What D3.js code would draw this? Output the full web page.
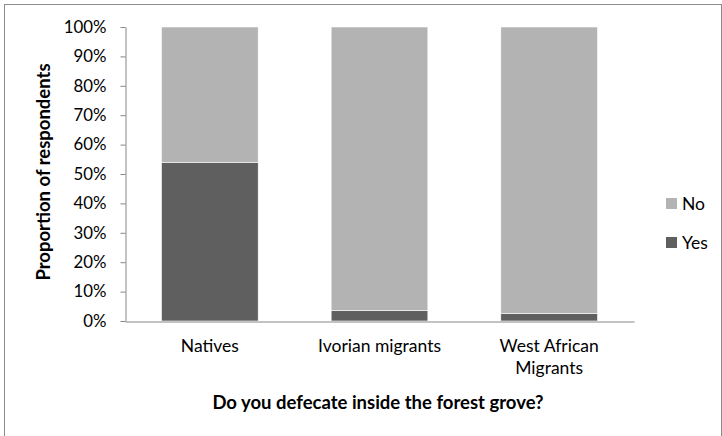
<!DOCTYPE html>
<html>
<head>
<meta charset="utf-8">
<script src="https://cdn.jsdelivr.net/npm/d3@7"></script>
<style>
  body { margin: 0; background: #fff; }
  text { font-family: Lato, "Open Sans", sans-serif; fill: #000; }
</style>
</head>
<body>
<script>
// Chart data
const categories = ["Natives", "Ivorian migrants", "West African Migrants"];
const yesValues = [54, 3.5, 2.5];
const noValues = [46, 96.5, 97.5];
const seriesNames = ["Yes", "No"];
const yTicks = [0, 10, 20, 30, 40, 50, 60, 70, 80, 90, 100];

const colors = {Yes: "#5f5f5f", No: "#b3b3b3"};

const W = 722, H = 436;
const margin = {top: 27, left: 125, right: 88, bottom: 115};
const width = W - margin.left - margin.right,
      height = H - margin.top - margin.bottom;

const svg = d3.select("body").append("svg")
    .attr("width", W)
    .attr("height", H);

// outer chart border
svg.append("rect")
    .attr("x", 4.5).attr("y", 4.5)
    .attr("width", W - 5).attr("height", H + 10)
    .attr("fill", "none")
    .attr("stroke", "#8c8c8c");

const g = svg.append("g")
    .attr("transform", `translate(${margin.left},${margin.top})`);

const x = d3.scaleBand().domain(categories).range([0, width]).paddingInner(0.43).paddingOuter(0.215);
const y = d3.scaleLinear().domain([0, 100]).range([height, 0]);

// stack the series
const table = categories.map((c, i) => ({cat: c, Yes: yesValues[i], No: noValues[i]}));
const stacked = d3.stack().keys(seriesNames)(table);

g.selectAll("g.series")
  .data(stacked)
  .enter().append("g")
    .attr("class", "series")
    .attr("fill", d => colors[d.key])
  .selectAll("rect")
  .data(d => d)
  .enter().append("rect")
    .attr("x", d => x(d.data.cat))
    .attr("width", x.bandwidth())
    .attr("y", d => y(d[1]))
    .attr("height", d => y(d[0]) - y(d[1]))
    .attr("stroke", "#fff")
    .attr("stroke-width", 0.6);

// y axis
const yAxis = g.append("g")
    .attr("transform", "translate(0.5,0)")
    .call(d3.axisLeft(y).tickValues(yTicks).tickFormat(d => d + "%").tickSize(5).tickSizeOuter(0));
yAxis.select(".domain").attr("stroke", "#868686");
yAxis.selectAll(".tick line").attr("stroke", "#868686");
yAxis.selectAll(".tick text").attr("font-size", 16.8).attr("x", -19);

// x axis
const xAxis = g.append("g")
    .attr("transform", `translate(0,${height + 0.5})`)
    .call(d3.axisBottom(x).tickSize(0).tickSizeOuter(0));
xAxis.select(".domain").attr("stroke", "#868686");
xAxis.selectAll(".tick text").remove();

// category labels, wrapped like the original
const labelLines = {"Natives": ["Natives"], "Ivorian migrants": ["Ivorian migrants"], "West African Migrants": ["West African", "Migrants"]};
g.selectAll("text.cat")
  .data(categories)
  .enter().append("text")
    .attr("class", "cat")
    .attr("text-anchor", "middle")
    .attr("font-size", 17.5)
    .attr("y", 352 - margin.top)
    .selectAll("tspan")
    .data(d => labelLines[d].map(l => ({cat: d, l})))
    .enter().append("tspan")
      .attr("x", d => x(d.cat) + x.bandwidth() / 2)
      .attr("dy", (d, i) => i ? 22 : 0)
      .text(d => d.l);

// axis titles
svg.append("text")
    .attr("x", 378)
    .attr("y", 409)
    .attr("text-anchor", "middle")
    .attr("font-size", 18.5)
    .attr("font-weight", "bold")
    .text("Do you defecate inside the forest grove?");

svg.append("text")
    .attr("transform", "translate(50,172) rotate(-90)")
    .attr("text-anchor", "middle")
    .attr("font-size", 18.5)
    .attr("font-weight", "bold")
    .text("Proportion of respondents");

// legend
const legend = svg.selectAll("g.legend")
  .data(["No", "Yes"])
  .enter().append("g")
    .attr("class", "legend")
    .attr("transform", (d, i) => `translate(666,${198 + i * 39})`);
legend.append("rect")
    .attr("width", 11).attr("height", 11)
    .attr("fill", d => colors[d]);
legend.append("text")
    .attr("x", 16).attr("y", 12)
    .attr("font-size", 17.5)
    .text(d => d);
</script>
</body>
</html>
